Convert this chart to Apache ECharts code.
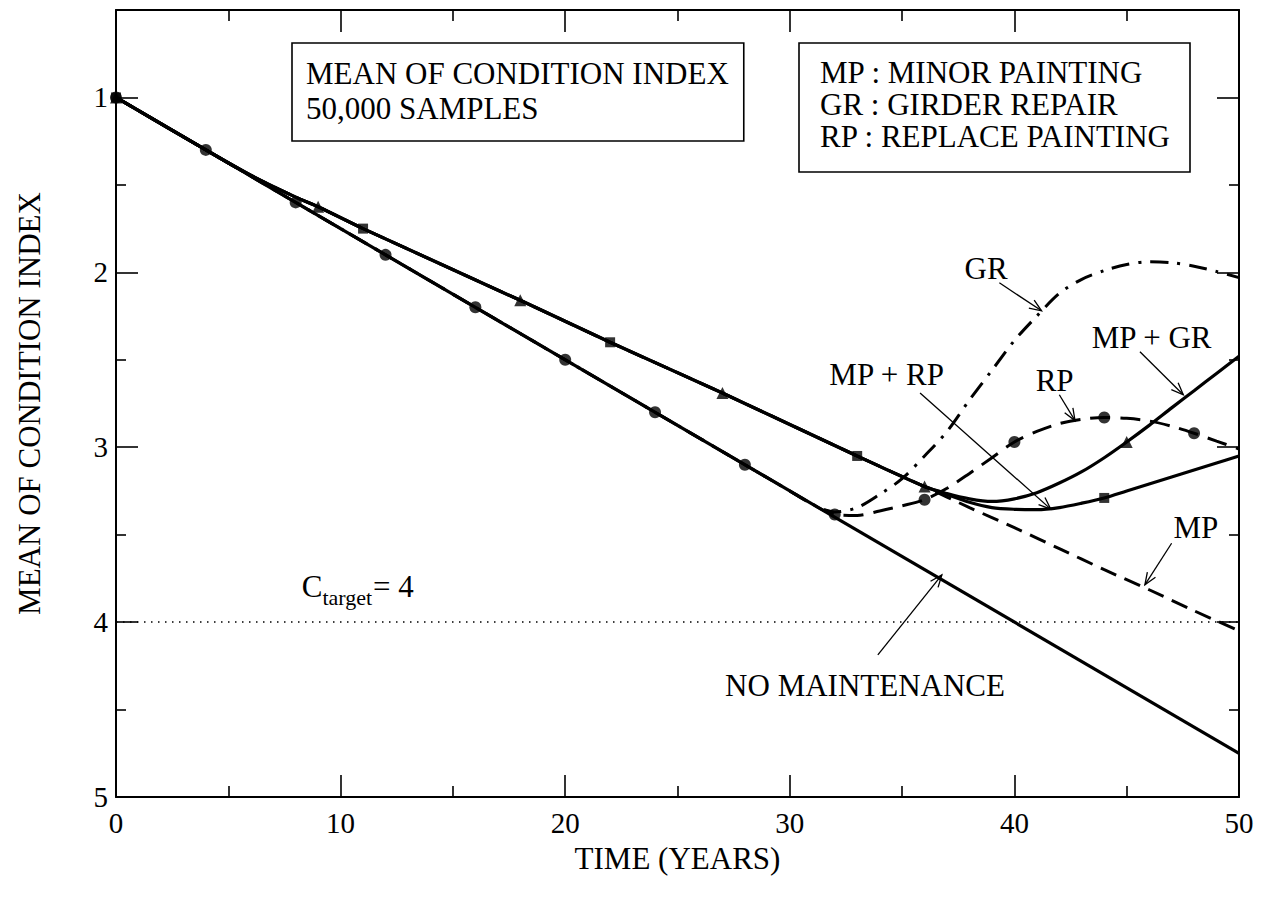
<!DOCTYPE html>
<html><head><meta charset="utf-8">
<script src="https://cdn.jsdelivr.net/npm/echarts@6/dist/echarts.min.js"></script>
<style>html,body{margin:0;padding:0;background:#fff}#c{width:1267px;height:905px}</style>
</head><body><div id="c"></div>
<script>
// ---------------- data ----------------
const YEARS_NM = [0, 50];
const NM = [1.0, 4.75];

const YEARS_RP = [0,4,8,12,16,20,24,28,30,31,32,33,34,35,36,37,38,39,40,41,42,43,44,45,46,47,48,49,50];
const RP = [1.0,1.30,1.60,1.90,2.20,2.50,2.80,3.10,3.25,3.325,3.385,3.39,3.365,3.335,3.30,3.235,3.15,3.06,2.97,2.91,2.865,2.84,2.83,2.835,2.85,2.88,2.92,2.965,3.01];
const RP_MARK_YEARS = [0,4,8,12,16,20,24,28,32,36,40,44,48];

const YEARS_GR = [0,28,30,31,32,33,34,35,36,37,38,39,40,41,42,43,44,45,46,47,48,49,50];
const GR = [1.0,3.10,3.25,3.325,3.37,3.345,3.27,3.18,3.05,2.91,2.73,2.56,2.39,2.25,2.12,2.04,1.99,1.955,1.94,1.945,1.965,1.995,2.03];

const YEARS_MP = [0,4,6,8,9,11,18,22,27,33,36,38,40,42,44,46,48,50];
const MP = [1.0,1.30,1.445,1.57,1.625,1.75,2.16,2.40,2.69,3.05,3.225,3.345,3.46,3.58,3.70,3.815,3.935,4.05];

const YEARS_MPRP = [0,4,6,8,9,11,18,22,27,33,36,37,38,39,40,41,42,43,44,45,46,47,48,49,50];
const MPRP = [1.0,1.30,1.445,1.57,1.625,1.75,2.16,2.40,2.69,3.05,3.225,3.27,3.315,3.345,3.355,3.357,3.345,3.32,3.29,3.25,3.21,3.17,3.13,3.09,3.05];
const MPRP_MARK_YEARS = [0,11,22,33,44];

const YEARS_MPGR = [0,4,6,8,9,11,18,22,27,33,36,37,38,39,40,41,42,43,44,45,46,47,48,49,50];
const MPGR = [1.0,1.30,1.445,1.57,1.625,1.75,2.16,2.40,2.69,3.05,3.225,3.265,3.295,3.31,3.295,3.26,3.205,3.14,3.06,2.97,2.875,2.775,2.677,2.578,2.48];
const MPGR_MARK_YEARS = [0,9,18,27,36,45];

const TARGET = 4;

const Y_TICKS = [1,2,3,4,5];
const Y_MINOR = [1.5,2.5,3.5,4.5];

// annotation labels: label centre (x,y), arrow start (x,y), arrow tip (x,y) in data units
const ANNOT_TEXT = ['GR','MP + GR','RP','MP + RP','MP','NO MAINTENANCE'];
const ANNOT_POS = [
  [38.74,1.98, 39.33,2.06, 41.21,2.22],
  [46.11,2.37, 45.59,2.454, 47.52,2.70],
  [41.79,2.617, 42.0,2.70, 42.70,2.848],
  [34.31,2.587, 35.80,2.69, 41.62,3.354],
  [48.08,3.458, 47.0,3.549, 45.81,3.787],
  [33.35,4.365, 33.92,4.187, 36.77,3.73]
];
const CTARGET_POS = [8.27, 3.798];

// ---------------- helpers ----------------
const FONT = '"Liberation Serif","Times New Roman",serif';
const FS = 31;
const zip = (xs, ys) => xs.map((x, i) => [x, ys[i]]);
const pick = (marks, xs, ys) => marks.map(m => [m, ys[xs.indexOf(m)]]);
const cv = document.createElement('canvas').getContext('2d');
function tw(t, size){ cv.font = size + 'px "Liberation Serif"'; return cv.measureText(t).width; }

const BLACK = '#000';
function lineSeries(name, data, type, width, z){
  return { name, type:'line', data, showSymbol:false, symbol:'none', smooth:0.3,
    lineStyle:{ color:BLACK, width, type }, z, animation:false, silent:true };
}
function markSeries(name, data, symbol, size){
  return { name, type:'scatter', data, symbol, symbolSize:size, itemStyle:{color:BLACK}, z:10, animation:false, silent:true };
}

const tickStyle = { color:BLACK, width:1.6 };
function xAx(pos, labels){
  return { type:'value', min:0, max:50, interval:10, position:pos,
    axisLine:{ show:true, onZero:false, lineStyle:{ color:BLACK, width:2 } },
    axisTick:{ show:true, inside:true, length:22, lineStyle:tickStyle },
    minorTick:{ show:true, splitNumber:2, length:11, lineStyle:tickStyle },
    splitLine:{ show:false }, minorSplitLine:{ show:false },
    axisLabel:{ show:labels, fontFamily:FONT, fontSize:29, color:BLACK, margin:11 },
    name: labels ? 'TIME (YEARS)' : '', nameLocation:'middle', nameGap:46,
    nameTextStyle:{ fontFamily:FONT, fontSize:FS, color:BLACK } };
}
function yAx(pos, vals, len, line, labels){
  return { type:'value', min:0.5, max:5, inverse:true, position:pos,
    axisLine:{ show:line, onZero:false, lineStyle:{ color:BLACK, width:2 } },
    axisTick:{ show:true, inside:true, length:len, customValues:vals, lineStyle:tickStyle },
    splitLine:{ show:false },
    axisLabel:{ show:labels, customValues:vals, fontFamily:FONT, fontSize:29, color:BLACK, margin:8 },
    name: labels ? 'MEAN OF CONDITION INDEX' : '', nameLocation:'middle', nameGap:71,
    nameTextStyle:{ fontFamily:FONT, fontSize:FS, color:BLACK } };
}

const option = {
  backgroundColor:'#fff',
  animation:false,
  grid:{ left:116, right:28, top:10, bottom:108, containLabel:false },
  xAxis:[ xAx('bottom', true), xAx('top', false) ],
  yAxis:[ yAx('left', Y_TICKS, 22, true, true), yAx('left', Y_MINOR, 10, false, false),
          yAx('right', Y_TICKS, 22, true, false), yAx('right', Y_MINOR, 10, false, false) ],
  series:[
    lineSeries('GR', zip(YEARS_GR, GR), [18,9,3,9], 3, 2),
    lineSeries('RP', zip(YEARS_RP, RP), [20,10], 3, 2),
    lineSeries('MP', zip(YEARS_MP, MP), [17,9], 3, 2),
    { name:'target', type:'line', data:[[0,TARGET],[50,TARGET]], symbol:'none', silent:true,
      lineStyle:{ color:BLACK, width:1.5, type:[1.5,5.5] }, z:1 },
    lineSeries('NO MAINTENANCE', zip(YEARS_NM, NM), 'solid', 3.2, 4),
    lineSeries('MP + RP', zip(YEARS_MPRP, MPRP), 'solid', 3.2, 4),
    lineSeries('MP + GR', zip(YEARS_MPGR, MPGR), 'solid', 3.2, 4),
    markSeries('RP markers', pick(RP_MARK_YEARS, YEARS_RP, RP), 'circle', 12),
    markSeries('MP + RP markers', pick(MPRP_MARK_YEARS, YEARS_MPRP, MPRP), 'rect', 10),
    markSeries('MP + GR markers', pick(MPGR_MARK_YEARS, YEARS_MPGR, MPGR), 'triangle', 12),
    { name:'annotations', type:'custom', data:ANNOT_POS, z:20, silent:true, clip:false,
      encode:{ x:[0,2,4], y:[1,3,5] },
      renderItem:function(params, api){
        const i = params.dataIndex;
        const lp = api.coord([api.value(0), api.value(1)]);
        const s = api.coord([api.value(2), api.value(3)]);
        const t = api.coord([api.value(4), api.value(5)]);
        const ang = Math.atan2(t[1]-s[1], t[0]-s[0]);
        const L = 13, A = 0.38;
        const a1 = [t[0]-L*Math.cos(ang-A), t[1]-L*Math.sin(ang-A)];
        const a2 = [t[0]-L*Math.cos(ang+A), t[1]-L*Math.sin(ang+A)];
        return { type:'group', children:[
          { type:'line', shape:{ x1:s[0], y1:s[1], x2:t[0], y2:t[1] }, style:{ stroke:BLACK, lineWidth:1.3 } },
          { type:'polyline', shape:{ points:[a1, t, a2] }, style:{ stroke:BLACK, lineWidth:1.3, fill:null } },
          { type:'text', x:lp[0], y:lp[1], style:{ text:ANNOT_TEXT[i], font:FS + 'px ' + FONT, fill:BLACK, align:'center', verticalAlign:'middle' } }
        ]};
      }
    },
    { name:'ctarget', type:'custom', data:[CTARGET_POS], z:20, silent:true, clip:false,
      renderItem:function(params, api){
        const p = api.coord([api.value(0), api.value(1)]);
        const w1 = tw('C', FS), w2 = tw('target', 22);
        return { type:'group', children:[
          { type:'text', x:p[0], y:p[1], style:{ text:'C', font:FS + 'px ' + FONT, fill:BLACK, align:'left', verticalAlign:'middle' } },
          { type:'text', x:p[0]+w1, y:p[1]+11, style:{ text:'target', font:'22px ' + FONT, fill:BLACK, align:'left', verticalAlign:'middle' } },
          { type:'text', x:p[0]+w1+w2+1, y:p[1], style:{ text:'= 4', font:FS + 'px ' + FONT, fill:BLACK, align:'left', verticalAlign:'middle' } }
        ]};
      }
    }
  ],
  graphic:[
    { type:'rect', shape:{ x:292, y:43, width: 14 + tw('MEAN OF CONDITION INDEX', FS) + 15, height:98 }, style:{ fill:'#fff', stroke:BLACK, lineWidth:1.6 }, z:30 },
    { type:'text', x:306, y:73, style:{ text:'MEAN OF CONDITION INDEX', font:FS + 'px ' + FONT, fill:BLACK, verticalAlign:'middle' }, z:31 },
    { type:'text', x:306, y:108, style:{ text:'50,000 SAMPLES', font:FS + 'px ' + FONT, fill:BLACK, verticalAlign:'middle' }, z:31 },
    { type:'rect', shape:{ x:799, y:43, width:391, height:129 }, style:{ fill:'#fff', stroke:BLACK, lineWidth:1.6 }, z:30 },
    { type:'text', x:820, y:72, style:{ text:'MP : MINOR PAINTING', font:FS + 'px ' + FONT, fill:BLACK, verticalAlign:'middle' }, z:31 },
    { type:'text', x:820, y:104, style:{ text:'GR : GIRDER REPAIR', font:FS + 'px ' + FONT, fill:BLACK, verticalAlign:'middle' }, z:31 },
    { type:'text', x:820, y:136, style:{ text:'RP : REPLACE PAINTING', font:FS + 'px ' + FONT, fill:BLACK, verticalAlign:'middle' }, z:31 }
  ]
};

const chart = echarts.init(document.getElementById('c'), null, { renderer:'svg', width:1267, height:905 });
chart.setOption(option);
</script>
</body></html>
